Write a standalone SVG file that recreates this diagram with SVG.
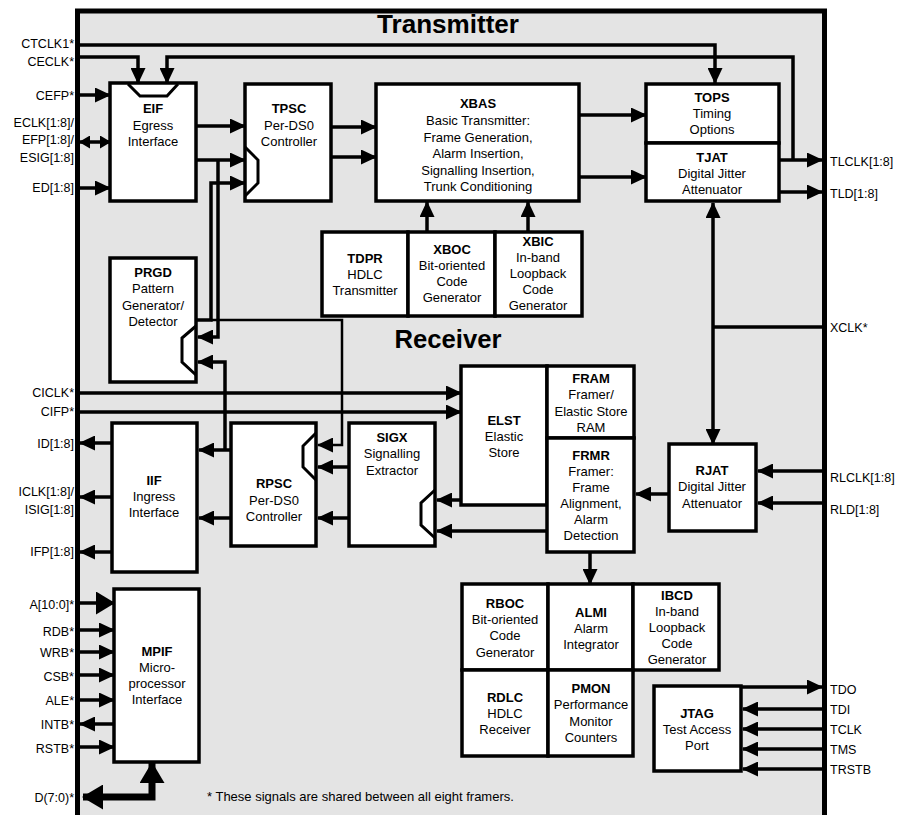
<svg xmlns="http://www.w3.org/2000/svg" width="909" height="815" viewBox="0 0 909 815">
<defs>
<marker id="a" markerUnits="userSpaceOnUse" markerWidth="16" markerHeight="15" refX="15" refY="7.5" orient="auto-start-reverse" viewBox="0 0 16 15"><path d="M0,0 L16,7.5 L0,15 z" fill="#000"/></marker>
<marker id="as" markerUnits="userSpaceOnUse" markerWidth="11" markerHeight="13" refX="10" refY="6.5" orient="auto-start-reverse" viewBox="0 0 11 13"><path d="M0,0 L11,6.5 L0,13 z" fill="#000"/></marker>
<marker id="ab" markerUnits="userSpaceOnUse" markerWidth="19" markerHeight="23" refX="18" refY="11.5" orient="auto-start-reverse" viewBox="0 0 19 23"><path d="M0,0 L19,11.5 L0,23 z" fill="#000"/></marker>
<marker id="ad" markerUnits="userSpaceOnUse" markerWidth="21" markerHeight="25" refX="20" refY="12.5" orient="auto-start-reverse" viewBox="0 0 21 25"><path d="M0,0 L21,12.5 L0,25 z" fill="#000"/></marker>
</defs>
<style>
.box{fill:#fff;stroke:#000;stroke-width:3.5}
.w{fill:none;stroke:#000;stroke-width:3.5;marker-end:url(#a)}
.n{fill:none;stroke:#000;stroke-width:3.5}
.thin{stroke-width:2.5}
.sym{fill:none;stroke:#000;stroke-width:3}
text{font-family:"Liberation Sans",Arial,Helvetica,sans-serif;font-size:13px;fill:#000}
.c{text-anchor:middle}
.b{font-weight:bold}
.l{text-anchor:end;font-size:12.5px}
.r{font-size:12.5px}
.title{font-size:25px;font-weight:bold;text-anchor:middle}
</style>
<rect x="0" y="0" width="909" height="815" fill="#fff"/>
<rect id="frame" x="77.5" y="11" width="747" height="820" fill="#e4e4e4" stroke="#000" stroke-width="5"/>
<text class="title" x="448" y="33" textLength="142" lengthAdjust="spacingAndGlyphs">Transmitter</text>
<text class="title" x="448" y="348" textLength="107" lengthAdjust="spacingAndGlyphs">Receiver</text>

<g id="connectors">
<path class="w" d="M80,45 H715 V83"/>
<path class="w" d="M80,57 H138 V83"/>
<path class="w" d="M793,160 V57 H167 V83"/>
<path class="w" d="M80,95 H110"/>
<path class="n" d="M80,142 H110" marker-start="url(#as)" marker-end="url(#as)"/>
<path class="w" d="M80,188 H110"/>
<path class="w" d="M196,126 H245"/>
<path class="w" d="M196,160 H245"/>
<path class="w" d="M218,160 V337 H198"/>
<path class="w" d="M197,320 H211 V183 H245"/>
<path class="w thin" d="M211,320 H342 V445 H318"/>
<path class="w" d="M231,450 H199"/>
<path class="w" d="M225,450 V362 H198"/>
<path class="w" d="M231,518 H199"/>
<path class="w" d="M349,467 H318"/>
<path class="w" d="M349,518 H318"/>
<path class="w" d="M461,500 H437"/>
<path class="w" d="M548,531 H437"/>
<path class="w" d="M80,393 H461"/>
<path class="w" d="M80,412 H461"/>
<path class="w" d="M331,127 H376"/>
<path class="w" d="M331,157 H376"/>
<path class="w" d="M579,115 H646"/>
<path class="w" d="M579,177 H646"/>
<path class="w" d="M779,160 H822"/>
<path class="w" d="M779,192 H822"/>
<path class="w" d="M427,232 V202"/>
<path class="w" d="M528,232 V202"/>
<path class="n" d="M822,327 H713"/>
<path class="n" d="M713,203 V444" marker-start="url(#a)" marker-end="url(#a)"/>
<path class="w" d="M822,471 H758"/>
<path class="w" d="M822,503 H758"/>
<path class="w" d="M669,494 H636"/>
<path class="w" d="M590,552 V584"/>
<path class="w" d="M112,443 H80"/>
<path class="w" d="M112,497 H80"/>
<path class="w" d="M112,552 H80"/>
<path class="n" d="M80,603 H114" marker-end="url(#ab)"/>
<path class="w" d="M80,630 H114"/>
<path class="w" d="M80,652 H114"/>
<path class="w" d="M80,675 H114"/>
<path class="w" d="M80,700 H114"/>
<path class="w" d="M114,724 H80"/>
<path class="w" d="M80,747 H114"/>
<path d="M83,797 H152 V763" fill="none" stroke="#000" stroke-width="7" marker-start="url(#ad)" marker-end="url(#ad)"/>
<path class="w" d="M741,687 H822"/>
<path class="w" d="M822,709 H743"/>
<path class="w" d="M822,729 H743"/>
<path class="w" d="M822,749 H743"/>
<path class="w" d="M822,769 H743"/>
</g>

<g id="pins">
<text class="l" x="74" y="48">CTCLK1*</text>
<text class="l" x="74" y="66">CECLK*</text>
<text class="l" x="74" y="100">CEFP*</text>
<text class="l" x="74" y="127">ECLK[1:8]/</text>
<text class="l" x="74" y="144">EFP[1:8]/</text>
<text class="l" x="74" y="162">ESIG[1:8]</text>
<text class="l" x="74" y="192">ED[1:8]</text>
<text class="l" x="74" y="397">CICLK*</text>
<text class="l" x="74" y="416">CIFP*</text>
<text class="l" x="74" y="448">ID[1:8]</text>
<text class="l" x="74" y="496">ICLK[1:8]/</text>
<text class="l" x="74" y="514">ISIG[1:8]</text>
<text class="l" x="74" y="556">IFP[1:8]</text>
<text class="l" x="74" y="609">A[10:0]*</text>
<text class="l" x="74" y="636">RDB*</text>
<text class="l" x="74" y="657">WRB*</text>
<text class="l" x="74" y="681">CSB*</text>
<text class="l" x="74" y="705">ALE*</text>
<text class="l" x="74" y="729">INTB*</text>
<text class="l" x="74" y="753">RSTB*</text>
<text class="l" x="74" y="802">D(7:0)*</text>
<text class="r" x="830" y="166">TLCLK[1:8]</text>
<text class="r" x="830" y="198">TLD[1:8]</text>
<text class="r" x="830" y="332">XCLK*</text>
<text class="r" x="830" y="482">RLCLK[1:8]</text>
<text class="r" x="830" y="514">RLD[1:8]</text>
<text class="r" x="830" y="694">TDO</text>
<text class="r" x="830" y="714">TDI</text>
<text class="r" x="830" y="734">TCLK</text>
<text class="r" x="830" y="754">TMS</text>
<text class="r" x="830" y="774">TRSTB</text>
<text x="207" y="801" font-size="12">* These signals are shared between all eight framers.</text>
</g>

<g id="EIF">
<rect class="box" x="110" y="83" width="86" height="118"/>
<polyline class="sym" points="128,84 140,96 167,96 178,84"/>
<text class="c b" x="153" y="113">EIF</text>
<text class="c" x="153" y="130">Egress</text>
<text class="c" x="153" y="146">Interface</text>
</g>
<g id="TPSC">
<rect class="box" x="245" y="84" width="86" height="117"/>
<polyline class="sym" points="245,147 258,160 258,183 245,196"/>
<text class="c b" x="289" y="113">TPSC</text>
<text class="c" x="289" y="130">Per-DS0</text>
<text class="c" x="289" y="146">Controller</text>
</g>
<g id="XBAS">
<rect class="box" x="376" y="84" width="203" height="117"/>
<text class="c b" x="478" y="108">XBAS</text>
<text class="c" x="478" y="125">Basic Transmitter:</text>
<text class="c" x="478" y="142">Frame Generation,</text>
<text class="c" x="478" y="158">Alarm Insertion,</text>
<text class="c" x="478" y="175">Signalling Insertion,</text>
<text class="c" x="478" y="191">Trunk Conditioning</text>
</g>
<g id="TOPS">
<rect class="box" x="646" y="84" width="133" height="59"/>
<text class="c b" x="712" y="102">TOPS</text>
<text class="c" x="712" y="118">Timing</text>
<text class="c" x="712" y="134">Options</text>
</g>
<g id="TJAT">
<rect class="box" x="646" y="143" width="133" height="58"/>
<text class="c b" x="712" y="162">TJAT</text>
<text class="c" x="712" y="178">Digital Jitter</text>
<text class="c" x="712" y="194">Attenuator</text>
</g>
<g id="TDPR">
<rect class="box" x="322" y="232" width="86" height="84"/>
<text class="c b" x="365" y="263">TDPR</text>
<text class="c" x="365" y="279">HDLC</text>
<text class="c" x="365" y="295">Transmitter</text>
</g>
<g id="XBOC">
<rect class="box" x="408" y="232" width="87" height="84"/>
<text class="c b" x="452" y="254">XBOC</text>
<text class="c" x="452" y="270">Bit-oriented</text>
<text class="c" x="452" y="286">Code</text>
<text class="c" x="452" y="302">Generator</text>
</g>
<g id="XBIC">
<rect class="box" x="495" y="232" width="87" height="84"/>
<text class="c b" x="538" y="246">XBIC</text>
<text class="c" x="538" y="262">In-band</text>
<text class="c" x="538" y="278">Loopback</text>
<text class="c" x="538" y="294">Code</text>
<text class="c" x="538" y="310">Generator</text>
</g>
<g id="PRGD">
<rect class="box" x="110" y="258" width="86" height="124"/>
<polyline class="sym" points="196,326 182,338 182,362 196,375"/>
<text class="c b" x="153" y="277">PRGD</text>
<text class="c" x="153" y="293">Pattern</text>
<text class="c" x="153" y="310">Generator/</text>
<text class="c" x="153" y="326">Detector</text>
</g>
<g id="IIF">
<rect class="box" x="112" y="423" width="85" height="149"/>
<text class="c b" x="154" y="485">IIF</text>
<text class="c" x="154" y="501">Ingress</text>
<text class="c" x="154" y="517">Interface</text>
</g>
<g id="RPSC">
<rect class="box" x="231" y="423" width="85" height="123"/>
<polyline class="sym" points="316,433 303,446 303,467 316,480"/>
<text class="c b" x="274" y="488">RPSC</text>
<text class="c" x="274" y="505">Per-DS0</text>
<text class="c" x="274" y="521">Controller</text>
</g>
<g id="SIGX">
<rect class="box" x="349" y="423" width="86" height="123"/>
<polyline class="sym" points="435,490 421,503 421,525 435,538"/>
<text class="c b" x="392" y="442">SIGX</text>
<text class="c" x="392" y="458">Signalling</text>
<text class="c" x="392" y="475">Extractor</text>
</g>
<g id="ELST">
<rect class="box" x="461" y="366" width="86" height="139"/>
<text class="c b" x="504" y="425">ELST</text>
<text class="c" x="504" y="441">Elastic</text>
<text class="c" x="504" y="457">Store</text>
</g>
<g id="FRAM">
<rect class="box" x="547" y="366" width="87" height="72"/>
<text class="c b" x="591" y="383">FRAM</text>
<text class="c" x="591" y="399">Framer/</text>
<text class="c" x="591" y="416">Elastic Store</text>
<text class="c" x="591" y="432">RAM</text>
</g>
<g id="FRMR">
<rect class="box" x="547" y="438" width="87" height="114"/>
<text class="c b" x="591" y="460">FRMR</text>
<text class="c" x="591" y="476">Framer:</text>
<text class="c" x="591" y="492">Frame</text>
<text class="c" x="591" y="508">Alignment,</text>
<text class="c" x="591" y="524">Alarm</text>
<text class="c" x="591" y="540">Detection</text>
</g>
<g id="RJAT">
<rect class="box" x="669" y="444" width="87" height="87"/>
<text class="c b" x="712" y="475">RJAT</text>
<text class="c" x="712" y="491">Digital Jitter</text>
<text class="c" x="712" y="508">Attenuator</text>
</g>
<g id="RBOC">
<rect class="box" x="462" y="584" width="86" height="86"/>
<text class="c b" x="505" y="608">RBOC</text>
<text class="c" x="505" y="624">Bit-oriented</text>
<text class="c" x="505" y="640">Code</text>
<text class="c" x="505" y="657">Generator</text>
</g>
<g id="ALMI">
<rect class="box" x="548" y="584" width="85" height="86"/>
<text class="c b" x="591" y="617">ALMI</text>
<text class="c" x="591" y="633">Alarm</text>
<text class="c" x="591" y="649">Integrator</text>
</g>
<g id="IBCD">
<rect class="box" x="633" y="584" width="86" height="86"/>
<text class="c b" x="677" y="600">IBCD</text>
<text class="c" x="677" y="616">In-band</text>
<text class="c" x="677" y="632">Loopback</text>
<text class="c" x="677" y="648">Code</text>
<text class="c" x="677" y="664">Generator</text>
</g>
<g id="RDLC">
<rect class="box" x="462" y="670" width="86" height="86"/>
<text class="c b" x="505" y="702">RDLC</text>
<text class="c" x="505" y="718">HDLC</text>
<text class="c" x="505" y="734">Receiver</text>
</g>
<g id="PMON">
<rect class="box" x="548" y="670" width="85" height="86"/>
<text class="c b" x="591" y="693">PMON</text>
<text class="c" x="591" y="709">Performance</text>
<text class="c" x="591" y="726">Monitor</text>
<text class="c" x="591" y="742">Counters</text>
</g>
<g id="MPIF">
<rect class="box" x="114" y="589" width="85" height="173"/>
<text class="c b" x="157" y="656">MPIF</text>
<text class="c" x="157" y="672">Micro-</text>
<text class="c" x="157" y="688">processor</text>
<text class="c" x="157" y="704">Interface</text>
</g>
<g id="JTAG">
<rect class="box" x="654" y="686" width="87" height="85"/>
<text class="c b" x="697" y="718">JTAG</text>
<text class="c" x="697" y="734">Test Access</text>
<text class="c" x="697" y="750">Port</text>
</g>
</svg>
